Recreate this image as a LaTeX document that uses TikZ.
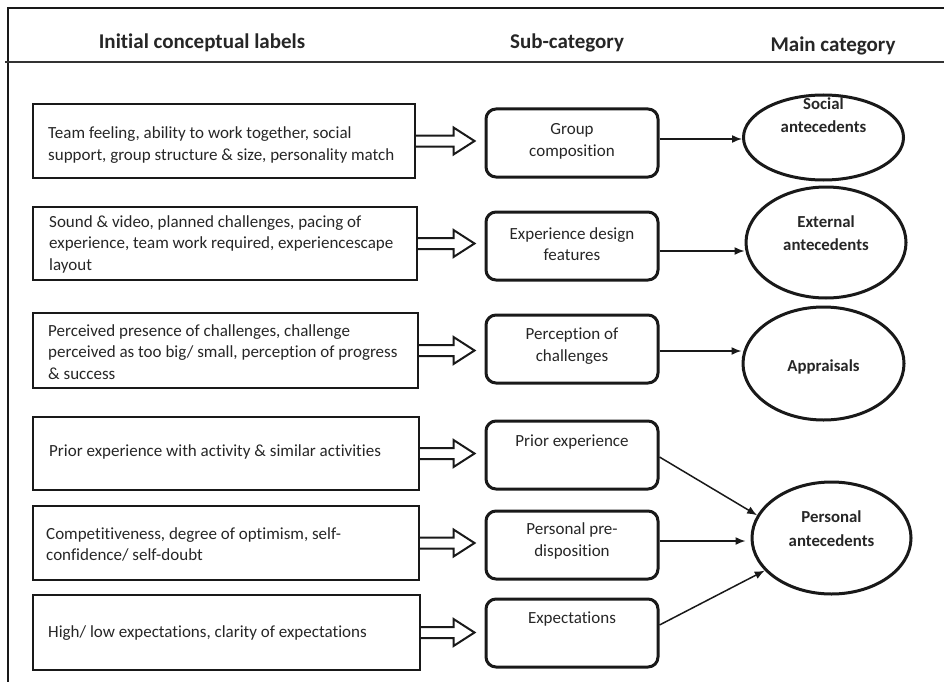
\documentclass[tikz,border=0pt]{standalone}
\usepackage{fontspec}
\setmainfont{Carlito}[Ligatures=NoCommon]
\usetikzlibrary{arrows.meta,calc,shapes.geometric}

% hollow block arrow from the east side of one node towards the west side of another
\newcommand\blockarrow[2]{%
  \draw[barrow] let \p1=(#1.east), \p2=(#2.west) in
    (\x1,\y1+5.5pt) -- (\x2-31pt,\y1+5.5pt) -- (\x2-31pt,\y1+13.5pt)
    -- (\x2-10pt,\y1) -- (\x2-31pt,\y1-13.5pt) -- (\x2-31pt,\y1-5.5pt)
    -- (\x1,\y1-5.5pt);}

\begin{document}
\begin{tikzpicture}[x=1pt,y=-1pt,
  frame/.style={line width=2pt,draw=black!90},
  sep/.style={line width=1.2pt,draw=black!80},
  head/.style={font=\fontsize{21}{24}\selectfont\bfseries,text=black!85},
  lbox/.style={draw=black!90,line width=2pt,inner sep=0pt},
  ltext/.style={anchor=west,align=left,inner sep=0pt,
    font=\fontsize{17}{21.5}\selectfont,text=black!85},
  mbox/.style={draw=black!90,line width=3pt,rounded corners=10pt,minimum width=172pt,minimum height=68pt},
  mtext/.style={align=center,font=\fontsize{17}{21.5}\selectfont,text=black!85,inner sep=0pt},
  cat/.style={draw=black!90,line width=3pt,ellipse,inner sep=0pt},
  ctext/.style={align=center,font=\fontsize{16.8}{23.5}\selectfont\bfseries,text=black!85,inner sep=0pt},
  barrow/.style={line width=2pt,draw=black!90,line join=miter},
  tarrow/.style={line width=1.5pt,draw=black!90,-{Latex[length=10pt,width=8pt]}}]

\useasboundingbox (0,0) rectangle (944,682);

% outer frame and header rule
\coordinate (ftl) at (8,8);
\coordinate (ftr) at (944,8);
\coordinate (fbl) at (8,682);
\coordinate (hl) at (5,62);
\coordinate (hr) at (944,62);
\draw[frame] (ftr) -- (ftl) -- (fbl);
\draw[sep] (hl) -- (hr);

% column headings
\node[head] (h1) at (202,43) {Initial conceptual labels};
\node[head] (h2) at (567,43) {Sub-category};
\node[head] (h3) at (833,46) {Main category};

% initial conceptual labels: boxes
\node[lbox,minimum width=382pt,minimum height=74pt] (l1) at (224,141) {};
\node[lbox,minimum width=384pt,minimum height=73pt] (l2) at (225,243.5) {};
\node[lbox,minimum width=385pt,minimum height=75pt] (l3) at (225.5,350.5) {};
\node[lbox,minimum width=386pt,minimum height=73pt] (l4) at (226,453.5) {};
\node[lbox,minimum width=386pt,minimum height=74pt] (l5) at (226,543) {};
\node[lbox,minimum width=387pt,minimum height=75pt] (l6) at (226.5,632.5) {};
% initial conceptual labels: texts
\node[ltext] (lt1) at (48,145)
  {Team feeling, ability to work together, social\\support, group structure \& size, personality match};
\node[ltext] (lt2) at (49,244)
  {Sound \& video, planned challenges, pacing of\\experience, team work required, experiencescape\\layout};
\node[ltext] (lt3) at (48,352)
  {Perceived presence of challenges, challenge\\perceived as too big/ small, perception of progress\\\& success};
\node[ltext] (lt4) at (49,452)
  {Prior experience with activity \& similar activities};
\node[ltext] (lt5) at (46,544.5)
  {Competitiveness, degree of optimism, self-\\confidence/ self-doubt};
\node[ltext] (lt6) at (48,633)
  {High/ low expectations, clarity of expectations};

% sub-categories
\node[mbox] (m1) at (572,143) {};
\node[mbox] (m2) at (572,246) {};
\node[mbox] (m3) at (572,349) {};
\node[mbox] (m4) at (572,455) {};
\node[mbox] (m5) at (572,545) {};
\node[mbox] (m6) at (572,633) {};
\node[mtext] (t1) at (572,141.5) {Group\\composition};
\node[mtext] (t2) at (572,244) {Experience design\\features};
\node[mtext] (t3) at (572,346) {Perception of\\challenges};
\node[mtext] (t4) at (572,442) {Prior experience};
\node[mtext] (t5) at (572,541) {Personal pre-\\disposition};
\node[mtext] (t6) at (572,619) {Expectations};

% main categories
\node[cat,minimum width=160pt,minimum height=85pt] (soc) at (823.5,137.5) {};
\node[cat,minimum width=160pt,minimum height=111pt] (ext) at (826,242.5) {};
\node[cat,minimum width=161pt,minimum height=113pt] (app) at (823.5,363.5) {};
\node[cat,minimum width=159pt,minimum height=112pt] (pa) at (831.5,538) {};
\node[ctext] (c1) at (823.5,115) {Social\\antecedents};
\node[ctext] (c2) at (826,233) {External\\antecedents};
\node[ctext] (c3) at (823.5,367) {Appraisals};
\node[ctext] (c4) at (831.5,528.5) {Personal\\antecedents};

% labels -> sub-categories
\blockarrow{l1}{m1}
\blockarrow{l2}{m2}
\blockarrow{l3}{m3}
\blockarrow{l4}{m4}
\blockarrow{l5}{m5}
\blockarrow{l6}{m6}

% sub-categories -> main categories
\draw[tarrow] ([yshift=4pt]m1.east) -- ([yshift=4pt]m1.east -| soc.west);
\draw[tarrow] ([yshift=-5pt]m2.east) -- ([yshift=-5pt]m2.east -| ext.west);
\draw[tarrow] ([yshift=-2pt]m3.east) -- ([yshift=-2pt]m3.east -| app.west);
\draw[tarrow] ([yshift=-2pt]m4.east) -- (pa.163);
\draw[tarrow] ([yshift=4pt]m5.east) -- ([yshift=4pt,xshift=-5pt]m5.east -| pa.west);
\draw[tarrow] ([yshift=8pt]m6.east) -- (pa.206);
\end{tikzpicture}
\end{document}
